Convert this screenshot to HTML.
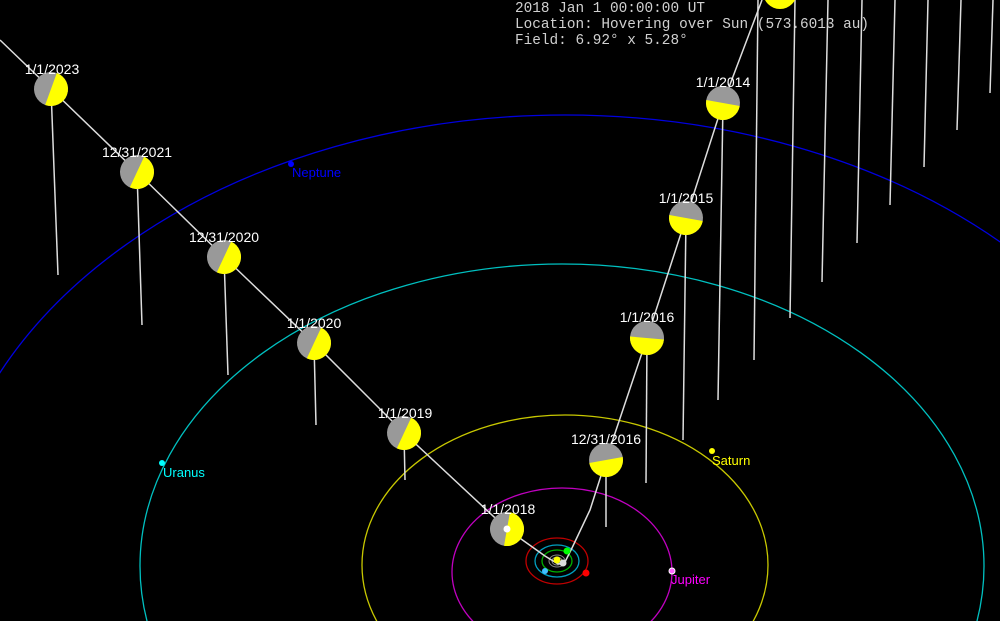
<!DOCTYPE html>
<html><head><style>html,body{margin:0;background:#000;width:1000px;height:621px;overflow:hidden;}svg{display:block}</style></head>
<body>
<svg width="1000" height="621" viewBox="0 0 1000 621" xmlns="http://www.w3.org/2000/svg">
<rect width="1000" height="621" fill="#000"/>
<g fill="none">
<ellipse cx="565" cy="565" rx="625" ry="450" stroke="#0000e0" stroke-width="1.3"/>
<ellipse cx="562" cy="566" rx="422" ry="302" stroke="#00c0c0" stroke-width="1.3"/>
<ellipse cx="565" cy="565" rx="203" ry="150" stroke="#c8c800" stroke-width="1.3"/>
<ellipse cx="562" cy="572" rx="110" ry="84" stroke="#c000c0" stroke-width="1.3"/>
<ellipse cx="557" cy="561" rx="31" ry="23" stroke="#c00000" stroke-width="1.3"/>
<ellipse cx="557" cy="561" rx="22" ry="16" stroke="#00a0c0" stroke-width="1.3"/>
<ellipse cx="557" cy="561" rx="15" ry="11" stroke="#00b000" stroke-width="1.3"/>
<ellipse cx="557" cy="561" rx="8" ry="6" stroke="#888" stroke-width="1"/>
<ellipse cx="557" cy="561" rx="5" ry="4" stroke="#888" stroke-width="1"/>
</g>
<g stroke="#ddd" stroke-width="1.5" fill="none">
<polyline points="0,40 51,89 137,172 224,257 314,343 404,433 507,529 545,556 558,564 565,562 572,548 590,510 606,460 647,338 686,218 723,103 762,0"/>
<line x1="51" y1="89" x2="58" y2="275"/>
<line x1="137" y1="172" x2="142" y2="325"/>
<line x1="224" y1="257" x2="228" y2="375"/>
<line x1="314" y1="343" x2="316" y2="425"/>
<line x1="404" y1="433" x2="405" y2="480"/>
<line x1="606" y1="460" x2="606" y2="527"/>
<line x1="647" y1="338" x2="646" y2="483"/>
<line x1="686" y1="218" x2="683" y2="440"/>
<line x1="723" y1="103" x2="718" y2="400"/>
<line x1="758" y1="0" x2="754" y2="360"/>
<line x1="795" y1="0" x2="790" y2="318"/>
<line x1="828" y1="0" x2="822" y2="282"/>
<line x1="862" y1="0" x2="857" y2="243"/>
<line x1="895" y1="0" x2="890" y2="205"/>
<line x1="928" y1="0" x2="924" y2="167"/>
<line x1="961" y1="0" x2="957" y2="130"/>
<line x1="993" y1="0" x2="990" y2="93"/>
</g>
<defs>
<g id="m"><circle r="17" fill="#999"/><path d="M0,-17 A17,17 0 0 1 0,17 Z" fill="#ffff00"/></g>
</defs>
<use href="#m" transform="translate(51,89) rotate(20)"/>
<use href="#m" transform="translate(137,172) rotate(25)"/>
<use href="#m" transform="translate(224,257) rotate(25)"/>
<use href="#m" transform="translate(314,343) rotate(25)"/>
<use href="#m" transform="translate(404,433) rotate(25)"/>
<use href="#m" transform="translate(507,529) rotate(10)"/>
<use href="#m" transform="translate(606,460) rotate(80)"/>
<use href="#m" transform="translate(647,338) rotate(95)"/>
<use href="#m" transform="translate(686,218) rotate(100)"/>
<use href="#m" transform="translate(723,103) rotate(100)"/>
<circle cx="780" cy="-8" r="17" fill="#ffff00"/>
<circle cx="507" cy="529" r="3.5" fill="#fff"/>
<g font-family="Liberation Sans, sans-serif" font-size="14" fill="#fff" text-anchor="middle">
<text x="52" y="74">1/1/2023</text>
<text x="137" y="157">12/31/2021</text>
<text x="224" y="242">12/31/2020</text>
<text x="314" y="328">1/1/2020</text>
<text x="405" y="418">1/1/2019</text>
<text x="508" y="514">1/1/2018</text>
<text x="606" y="444">12/31/2016</text>
<text x="647" y="322">1/1/2016</text>
<text x="686" y="203">1/1/2015</text>
<text x="723" y="87">1/1/2014</text>
</g>
<g font-family="Liberation Sans, sans-serif" font-size="13">
<circle cx="291" cy="164" r="3" fill="#0000ff"/><text x="292" y="177" fill="#0000ff">Neptune</text>
<circle cx="162" cy="463" r="3" fill="#00ffff"/><text x="163" y="477" fill="#00ffff">Uranus</text>
<circle cx="712" cy="451" r="3" fill="#ffff00"/><text x="712" y="465" fill="#ffff00">Saturn</text>
<circle cx="672" cy="571" r="3" fill="#ff66ff" stroke="#fff" stroke-width="1"/><text x="671" y="584" fill="#ff00ff">Jupiter</text>
</g>
<circle cx="557" cy="560" r="3.5" fill="#ffff00"/>
<circle cx="567" cy="551" r="3.5" fill="#00ff00"/>
<circle cx="545" cy="571" r="3" fill="#40c0ff"/>
<circle cx="586" cy="573" r="3.5" fill="#ff0000"/>
<circle cx="563" cy="563" r="3.5" fill="#ddd"/>
<g font-family="Liberation Mono, monospace" font-size="14.4" fill="#d0d0d0" style="white-space:pre">
<text x="515" y="12">2018 Jan  1 00:00:00 UT</text>
<text x="515" y="28">Location: Hovering over Sun (573.6013 au)</text>
<text x="515" y="44">Field: 6.92° x 5.28°</text>
</g>
</svg>
</body></html>
